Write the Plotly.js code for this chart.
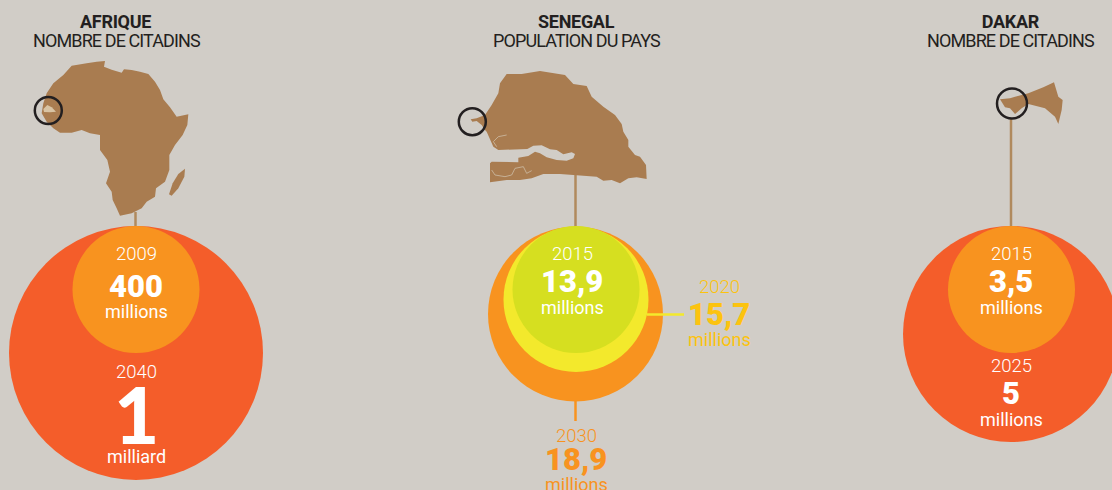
<!DOCTYPE html>
<html>
<head>
<meta charset="utf-8">
<title>Afrique, Senegal, Dakar</title>
<script src="https://cdn.plot.ly/plotly-3.0.1.min.js"></script>
<style>
  html, body {margin:0; padding:0; background:#d1cdc7;}
  #chart {width:1112px; height:490px;}
</style>
</head>
<body>
<div id="chart"></div>
<script>
// figures
var africaYears = ['2040', '2009'];
var africaLabels = ['1', '400'];
var africaUnits = ['milliard', 'millions'];
var senegalYears = ['2030', '2020', '2015'];
var senegalLabels = ['18,9', '15,7', '13,9'];
var senegalUnits = ['millions', 'millions', 'millions'];
var dakarYears = ['2025', '2015'];
var dakarLabels = ['5', '3,5'];
var dakarUnits = ['millions', 'millions'];

// placement of the bubbles, px on the page
var africaBubbleX = [136, 136], africaBubbleY = [353, 289.5], africaBubbleD = [254, 127];
var senegalBubbleX = [575.5, 576, 576], senegalBubbleY = [314, 299.5, 289.5], senegalBubbleD = [175, 145, 127];
var dakarBubbleX = [1011, 1011.5], dakarBubbleY = [334, 289.5], dakarBubbleD = [216, 127];

// map outlines, traced at 3x (offset + value / 3)
var africaOutline = [[315,183],[312,200],[335,209],[365,218],[372,208],[395,210],[420,215],[445,222],[465,245],[480,270],[490,298],[510,322],[530,350],[565,343],[562,375],[548,405],[525,435],[508,465],[508,510],[495,545],[468,565],[465,590],[440,605],[425,625],[395,640],[360,647],[350,625],[338,600],[335,575],[318,550],[330,515],[322,480],[300,450],[300,405],[270,400],[245,390],[215,398],[180,398],[160,385],[140,365],[125,340],[130,310],[140,280],[160,250],[190,225],[215,197],[260,190],[290,185]];
var madagascarOutline = [[555,506],[553,530],[535,565],[515,587],[507,583],[518,550],[535,522]];
var senegalInAfrica = [[130,327],[142,315],[155,322],[168,335],[150,337],[132,336]];
var senegalOutline = [[200,222],[245,222],[300,213],[335,218],[375,225],[400,252],[440,258],[455,290],[490,320],[525,345],[545,372],[550,395],[565,420],[565,440],[585,465],[600,470],[618,495],[620,537],[590,532],[565,535],[540,550],[515,540],[490,542],[470,530],[440,527],[400,525],[360,522],[310,522],[275,535],[240,540],[200,540],[150,547],[150,490],[155,485],[235,487],[235,473],[265,468],[285,455],[300,460],[320,472],[350,480],[380,482],[400,475],[405,462],[395,457],[370,463],[350,450],[330,448],[305,436],[280,437],[262,447],[175,450],[160,440],[150,415],[140,395],[135,390],[125,375],[110,363],[97,365],[92,358],[110,355],[135,345],[155,315],[175,280],[180,250]];
var senegalRiver1 = [[155,510],[165,525],[195,530],[215,525],[225,505],[250,500],[260,520],[275,512]];
var senegalRiver2 = [[200,405],[175,410],[160,425],[170,440]];
var dakarOutline = [[300,298],[330,295],[345,290],[385,280],[430,262],[462,247],[475,290],[488,300],[485,330],[475,372],[465,350],[435,325],[385,312],[365,325],[345,342],[330,325],[315,322]];

var BG = '#d1cdc7', RED = '#f45d2a', ORANGE = '#f8931f', YELLOW = '#f3e92c', GREEN = '#d6df20';
var BROWN = '#a97c50', STEM = '#b08a5e', INK = '#231f20', GOLD = '#fcc30f';
var FONT = 'Roboto, sans-serif';

function unzoom(points, dx) {
    return {
        x: points.map(function (p) { return dx + p[0] / 3; }),
        y: points.map(function (p) { return p[1] / 3; })
    };
}
function land(points, dx, color) {
    var xy = unzoom(points, dx);
    return {type: 'scatter', mode: 'lines', x: xy.x, y: xy.y, fill: 'toself', fillcolor: color, line: {width: 0, color: color}};
}
function river(points, dx) {
    var xy = unzoom(points, dx);
    return {type: 'scatter', mode: 'lines', x: xy.x, y: xy.y, line: {width: 0.7, color: '#d2c6b2'}};
}
function stem(x0, y0, x1, y1, color) {
    return {type: 'scatter', mode: 'lines', x: [x0, x1], y: [y0, y1], line: {width: 2.5, color: color}};
}
function bubbles(x, y, d, colors) {
    return {type: 'scatter', mode: 'markers', x: x, y: y, marker: {size: d, color: colors, opacity: 1, line: {width: 0}}};
}
function ring(x, y, d) {
    return {type: 'scatter', mode: 'markers', x: [x], y: [y], marker: {size: d, symbol: 'circle-open', color: INK, line: {width: 2.5, color: INK}}};
}
function label(x, y, text, size, color, weight, family) {
    return {
        x: x, y: y, xref: 'x', yref: 'y', text: text, showarrow: false,
        xanchor: 'center', yanchor: 'middle', font: {family: family || FONT, size: size, color: color, weight: weight || 400}
    };
}

var traces = [
    stem(135.5, 212, 135.5, 228, STEM),
    stem(575.5, 170, 575.5, 228, STEM),
    stem(1011, 118, 1011, 228, STEM),
    stem(575.5, 400, 575.5, 421, ORANGE),
    land(africaOutline, 0, BROWN),
    land(madagascarOutline, 0, BROWN),
    land(senegalInAfrica, 0, '#d9c4a4'),
    land(senegalOutline, 440, BROWN),
    river(senegalRiver1, 440),
    river(senegalRiver2, 440),
    land(dakarOutline, 900, BROWN),
    ring(48.3, 110.5, 27),
    ring(472.3, 121.7, 27),
    ring(1012, 103.5, 30),
    bubbles(africaBubbleX, africaBubbleY, africaBubbleD, [RED, ORANGE]),
    bubbles(senegalBubbleX.slice(0, 1), senegalBubbleY.slice(0, 1), senegalBubbleD.slice(0, 1), [ORANGE]),
    stem(647, 314.5, 684, 314.5, YELLOW),
    bubbles(senegalBubbleX.slice(1), senegalBubbleY.slice(1), senegalBubbleD.slice(1), [YELLOW, GREEN]),
    bubbles(dakarBubbleX, dakarBubbleY, dakarBubbleD, [RED, ORANGE])
];

var annotations = [
    label(115.5, 21, 'AFRIQUE', 18, INK, 700),
    label(116, 40, 'NOMBRE DE CITADINS', 18, INK),
    label(576, 21, 'SENEGAL', 18, INK, 700),
    label(576, 40, 'POPULATION DU PAYS', 18, INK),
    label(1010, 21, 'DAKAR', 18, INK, 700),
    label(1010, 40, 'NOMBRE DE CITADINS', 18, INK),

    label(136, 254, africaYears[1], 18.5, '#fff', 300),
    label(136, 286, africaLabels[1], 31, '#fff', 900),
    label(136, 311, africaUnits[1], 18, '#fff'),
    label(136, 372, africaYears[0], 18.5, '#fff', 300),
    label(136, 414, africaLabels[0], 78, '#fff', 900, 'Lato, sans-serif'),
    label(136, 456, africaUnits[0], 18, '#fff'),

    label(572, 254, senegalYears[2], 18.5, '#fff', 300),
    label(572, 281.5, senegalLabels[2], 31, '#fff', 900),
    label(572, 307, senegalUnits[2], 18, '#fff'),
    label(719, 287, senegalYears[1], 18.5, GOLD, 300),
    label(719, 314.5, senegalLabels[1], 31, GOLD, 900),
    label(719, 339, senegalUnits[1], 18, GOLD),
    label(576, 436, senegalYears[0], 18.5, ORANGE, 300),
    label(576, 459.5, senegalLabels[0], 31, ORANGE, 900),
    label(576, 484, senegalUnits[0], 18, ORANGE),

    label(1011, 254, dakarYears[1], 18.5, '#fff', 300),
    label(1011, 281.5, dakarLabels[1], 31, '#fff', 900),
    label(1011, 307, dakarUnits[1], 18, '#fff'),
    label(1011, 366, dakarYears[0], 18.5, '#fff', 300),
    label(1011, 393.5, dakarLabels[0], 31, '#fff', 900),
    label(1011, 419, dakarUnits[0], 18, '#fff')
];

var layout = {
    width: 1112, height: 490,
    margin: {l: 0, r: 0, t: 0, b: 0},
    paper_bgcolor: BG, plot_bgcolor: BG,
    showlegend: false, hovermode: false,
    xaxis: {range: [0, 1112], visible: false, fixedrange: true},
    yaxis: {range: [490, 0], visible: false, fixedrange: true},
    annotations: annotations
};

Plotly.newPlot('chart', traces, layout, {displayModeBar: false, staticPlot: true}).then(function () {
    // the headers are set in a narrower face in the original, so tighten them
    document.querySelectorAll('.annotation-text').forEach(function (t, i) {
        if (i < 6) t.style.letterSpacing = i % 2 ? '-0.9px' : '-0.3px';
    });
});
</script>
</body>
</html>
